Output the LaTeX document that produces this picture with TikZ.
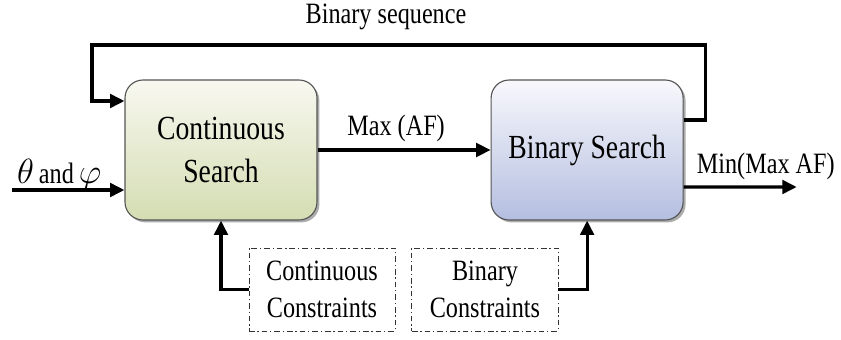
\documentclass[tikz,border=0pt]{standalone}
\usepackage{fontspec}
\setmainfont{Liberation Serif}
\usetikzlibrary{arrows.meta,positioning,shadows,calc}
\definecolor{greentop}{RGB}{248,248,240}
\definecolor{greenbot}{RGB}{212,221,178}
\definecolor{bluetop}{RGB}{248,248,252}
\definecolor{bluebot}{RGB}{180,190,224}
\definecolor{edge}{RGB}{85,85,85}
\newcommand{\narrow}[1]{\scalebox{0.82}[1]{#1}}

\begin{document}
\begin{tikzpicture}[
  every node/.style={font=\fontsize{21}{26}\selectfont},
  searchbox/.style={draw=edge,line width=0.8pt,rounded corners=0.45cm,
    minimum width=4.8cm,minimum height=3.5cm,align=center,
    drop shadow={shadow xshift=0.06cm,shadow yshift=-0.06cm,fill=black!65},
    font=\fontsize{24}{31}\selectfont},
  conbox/.style={draw=black!80,dash pattern=on 4pt off 2pt on 1pt off 2pt,
    line width=0.7pt,minimum width=3.65cm,minimum height=2.075cm,align=center},
  flow/.style={line width=2.3pt,-{Triangle[length=0.36cm,width=0.34cm]}}]
\useasboundingbox (0,0) rectangle (21.025,8.475);
\node[searchbox,top color=greentop,bottom color=greenbot] (cs) at (5.525,4.725)
  {\narrow{Continuous}\\\narrow{Search}};
\node[searchbox,top color=bluetop,bottom color=bluebot,right=4.325cm of cs] (bs)
  {\narrow{Binary Search}};
\node[conbox] (cc) at (8.05,1.2375) {\narrow{Continuous}\\\narrow{Constraints}};
\node[conbox,right=0.4cm of cc] (bc) {\narrow{Binary}\\\narrow{Constraints}};
\coordinate (in) at (0.3,3.725);
\coordinate (fbtop) at (2.3,7.35);
\coordinate (out) at ($(bs.east)+(2.825,-0.925)$);
\node[anchor=base] (seq) at (9.65,7.9) {\narrow{Binary sequence}};
% arrows
\draw[flow] (in) -- (cs.west |- in)
  node[pos=0.42,anchor=base,yshift=0.17cm]
  {{\fontsize{23}{28}\selectfont$\theta$}\,\narrow{and}\,{\fontsize{23}{28}\selectfont$\varphi$}};
\draw[flow] (cs.east) -- (bs.west)
  node[midway,anchor=base,yshift=0.37cm,xshift=-0.2cm] {\narrow{Max (AF)}};
\draw[flow] ([yshift=-0.925cm]bs.east) -- (out)
  node[midway,anchor=base,yshift=0.35cm,xshift=0.64cm] {\narrow{Min(Max AF)}};
\draw[flow] ([yshift=0.75cm]bs.east) -- ++(0.55,0) |- (fbtop)
  |- ([yshift=1.225cm]cs.west);
\draw[flow] (cc.west) -| (cs.south);
\draw[flow] (bc.east) -| (bs.south);
\end{tikzpicture}
\end{document}
